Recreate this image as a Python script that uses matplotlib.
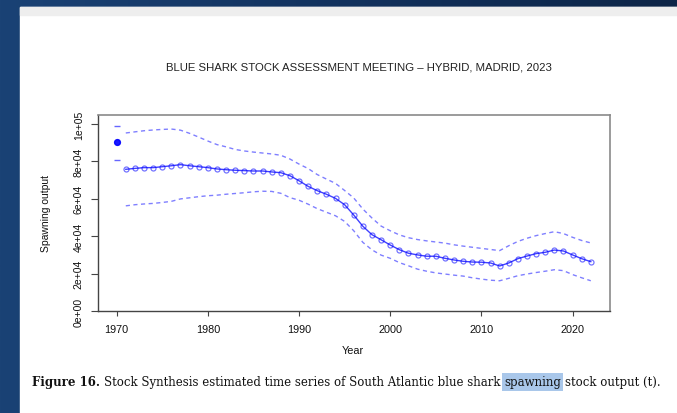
import numpy as np
import matplotlib
matplotlib.use("Agg")
import matplotlib.pyplot as plt
from matplotlib.patches import Rectangle
from matplotlib.colors import LinearSegmentedColormap

# ----------------------------
# Data (spawning output, t)
# ----------------------------
virgin_year = [1970]
virgin_val = [90200]
virgin_hi = [99000]
virgin_lo = [80800]

years = list(range(1971, 2023))
ssb = [
    75800, 76300, 76700, 76700, 77200, 77700, 78300, 77700, 77200, 76700,
    76000, 75600, 75300, 75100, 74900, 74900, 74400, 74000, 72400, 69700,
    66700, 64400, 62500, 60300, 56900, 51400, 45400, 40900, 38200, 35400,
    32900, 31000, 30100, 29400, 29400, 28300, 27400, 26700, 26300, 26200,
    25800, 24200, 25800, 28100, 29500, 30800, 31500, 32700, 32200, 30100,
    28100, 26500,
]
ssb_hi = [
    95200, 95800, 96400, 96800, 97100, 97300, 96700, 95000, 93000, 90900,
    89000, 87800, 86400, 85600, 85000, 84500, 84000, 83300, 81300, 78600,
    76200, 73000, 70600, 68300, 64500, 60500, 54600, 49800, 45500, 43000,
    40800, 39300, 38300, 37600, 37000, 36400, 35500, 34800, 34200, 33600,
    33000, 32400, 35000, 37300, 39000, 40400, 41500, 42500, 41500, 39500,
    37800, 36500,
]
ssb_lo = [
    56300, 56900, 57300, 57600, 58100, 58700, 60000, 60600, 61200, 61700,
    62000, 62500, 62900, 63300, 63800, 64100, 64000, 63000, 60700, 59300,
    57200, 54800, 52900, 51000, 48000, 43000, 36800, 32800, 30000, 28300,
    26000, 24300, 22500, 21400, 20500, 19900, 19300, 18800, 17900, 17200,
    16600, 16300, 17600, 19000, 19900, 20700, 21400, 22200, 21700, 19600,
    17900, 16300,
]

xticks = [1970, 1980, 1990, 2000, 2010, 2020]
yticks = [0, 20000, 40000, 60000, 80000, 100000]
ytick_labels = ["0e+00", "2e+04", "4e+04", "6e+04", "8e+04", "1e+05"]

W, H = 677, 414
fig = plt.figure(figsize=(W / 100, H / 100), dpi=100)

# ----------------------------
# Slide background + page
# ----------------------------
bg = fig.add_axes([0, 0, 1, 1], zorder=-10)
grad = np.linspace(0, 1, 256).reshape(1, -1)
cmap = LinearSegmentedColormap.from_list("bg", ["#1a4275", "#12325e", "#0d2547"])
bg.imshow(grad, aspect="auto", cmap=cmap, extent=[0, 1, 0, 1])
bg.set_xlim(0, 1)
bg.set_ylim(0, 1)
bg.axis("off")

page_l, page_t = 20 / W, 1 - 8 / H
bg.add_patch(Rectangle((page_l, 0), 1 - page_l, page_t, color="white", zorder=1))
bg.add_patch(Rectangle((page_l, 1 - 16 / H), 1 - page_l, 8 / H, color="#eeeeee", zorder=2))

# ----------------------------
# Plot
# ----------------------------
ax = fig.add_axes([97.7 / W, 1 - 312.3 / H, (609.5 - 97.7) / W, (312.3 - 116) / H])
ax.set_facecolor("white")

blue = "#0000ff"
ax.plot(virgin_year, virgin_val, "o", color=blue, ms=4.2, alpha=0.9)
ax.plot(virgin_year, virgin_hi, "_", color=blue, ms=4, mew=1, alpha=0.6)
ax.plot(virgin_year, virgin_lo, "_", color=blue, ms=4, mew=1, alpha=0.6)

ax.plot(years, ssb, "-", color=blue, lw=1, alpha=0.75)
ax.plot(years, ssb, "o", mfc="none", mec=blue, ms=3.6, mew=0.9, alpha=0.55)
ax.plot(years, ssb_hi, color=blue, lw=1, alpha=0.5, dashes=(3, 2.5))
ax.plot(years, ssb_lo, color=blue, lw=1, alpha=0.5, dashes=(3, 2.5))

ax.set_xlim(1967.92, 2024.05)
ax.set_ylim(0, 104800)
ax.set_xticks(xticks)
ax.set_xticklabels([str(x) for x in xticks], fontsize=7.8, family="Liberation Sans", color="#111111")
ax.set_yticks(yticks)
ax.set_yticklabels(ytick_labels, fontsize=7.5, family="Liberation Sans", color="#111111",
                   rotation=90, va="center")
ax.tick_params(axis="x", length=3.5, width=0.8, pad=6, color="#444444")
ax.tick_params(axis="y", length=5, width=0.8, pad=5, color="#444444")
for side in ["left", "bottom"]:
    ax.spines[side].set_color("#444444")
    ax.spines[side].set_linewidth(1)
for side in ["right", "top"]:
    ax.spines[side].set_color("#8a8a8a")
    ax.spines[side].set_linewidth(1.2)

fig.text(353 / W, 1 - 351 / H, "Year", ha="center", va="center",
         fontsize=7.8, family="Liberation Sans", color="#111111")
fig.text(46 / W, 1 - 214 / H, "Spawning output", ha="center", va="center",
         rotation=90, fontsize=7.5, family="Liberation Sans", color="#111111")

fig.text(359 / W, 1 - 68 / H, "BLUE SHARK STOCK ASSESSMENT MEETING – HYBRID, MADRID, 2023",
         ha="center", va="center", fontsize=8.2, family="Liberation Sans", color="#222222")

# ----------------------------
# Caption (bold label, highlighted word)
# ----------------------------
renderer = fig.canvas.get_renderer()
cap_font = dict(fontsize=8.5, family="DejaVu Serif", color="#111111")
parts = [
    ("Figure 16.", "bold", False),
    ("Stock Synthesis estimated time series of South Atlantic blue shark", "normal", False),
    ("spawning", "normal", True),
    ("stock output (t).", "normal", False),
]
probe = fig.text(0, 0, "a a", **cap_font)
w_aa = fig.text(0, 0, "aa", **cap_font)
space = (probe.get_window_extent(renderer).width - w_aa.get_window_extent(renderer).width) / W
probe.remove()
w_aa.remove()

x = 32 / W
y = 1 - 383 / H
for s, weight, hl in parts:
    t = fig.text(x, y, s, ha="left", va="center", fontweight=weight, **cap_font)
    if hl:
        t.set_bbox(dict(facecolor="#a9c7ea", edgecolor="none", pad=1.5))
    x += t.get_window_extent(renderer).width / W + space

fig.savefig("out.png", dpi=100)
